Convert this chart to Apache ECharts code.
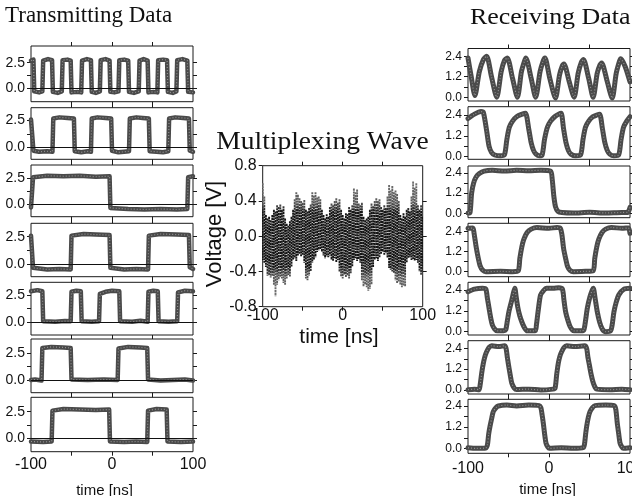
<!DOCTYPE html>
<html><head><meta charset="utf-8">
<script src="https://cdn.jsdelivr.net/npm/echarts@6/dist/echarts.min.js"></script>
<style>html,body{margin:0;padding:0;background:#fff}#c{width:632px;height:496px}</style>
</head><body><div id="c"></div>
<script>
// ---------- tick / label values ----------
const timeLabels = [-100, 0, 100];
const timeTicks = [-50, 0, 50];
const txTicks = [0, 1.25, 2.5];
const txLabels = [0, 2.5];
const rxTicks = [0, 0.6, 1.2, 1.8, 2.4];
const rxLabels = [0, 1.2, 2.4];
const mpxTicks = [-0.8, -0.4, 0, 0.4, 0.8];

// ---------- Transmitting data (time ns, voltage V) ----------
const tx1 = [[-100,2.7],[-97,2.8],[-96,-0.3],[-90,-0.4],[-86,-0.3],[-85,2.7],[-79,2.85],[-74,2.75],[-73,-0.35],[-67,-0.45],[-62,-0.3],[-61,2.75],[-55,2.8],[-51,2.7],[-50,-0.4],[-43,-0.35],[-38,-0.4],[-37,2.7],[-31,2.85],[-26,2.75],[-25,-0.35],[-20,-0.45],[-15,-0.3],[-14,2.75],[-8,2.85],[-3,2.7],[-2,-0.35],[3,-0.4],[8,-0.3],[9,2.75],[15,2.8],[20,2.7],[21,-0.35],[27,-0.45],[33,-0.3],[34,2.7],[39,2.85],[44,2.7],[45,-0.4],[51,-0.35],[56,-0.4],[57,2.75],[63,2.8],[68,2.75],[69,-0.35],[75,-0.45],[79.5,-0.3],[80.5,2.75],[87,2.85],[93,2.7],[94,-0.35],[100,-0.4]];
const tx2 = [[-100,2.6],[-98,2.7],[-97,-0.3],[-90,-0.4],[-80,-0.35],[-73.5,-0.4],[-72.5,2.7],[-65,2.8],[-55,2.75],[-47,2.7],[-46,-0.35],[-38,-0.45],[-30,-0.35],[-26,-0.4],[-25,2.7],[-18,2.8],[-8,2.75],[-1,2.7],[0,-0.3],[8,-0.45],[15,-0.4],[21,-0.35],[22,2.7],[30,2.8],[38,2.75],[45.5,2.7],[46.5,-0.35],[55,-0.4],[63,-0.45],[69.5,-0.35],[70.5,2.7],[78,2.8],[88,2.75],[95,2.7],[96,-0.3],[100,-0.4]];
const tx3 = [[-100,-0.3],[-98.5,-0.4],[-97.5,2.6],[-80,2.75],[-60,2.7],[-40,2.75],[-20,2.65],[-3,2.7],[-2,-0.35],[20,-0.45],[40,-0.5],[60,-0.45],[80,-0.5],[93,-0.45],[94,2.6],[100,2.7]];
const tx4 = [[-100,2.6],[-98.5,2.5],[-97.5,-0.35],[-80,-0.5],[-65,-0.45],[-51,-0.5],[-50,2.6],[-35,2.75],[-20,2.7],[-3,2.65],[-2,-0.35],[15,-0.5],[30,-0.45],[44.5,-0.5],[45.5,2.6],[60,2.75],[80,2.7],[95,2.65],[96,-0.3],[100,-0.45]];
const tx5 = [[-100,2.85],[-92,2.95],[-86,2.85],[-85,0.1],[-70,0.05],[-58,0.12],[-51,0.1],[-50,2.8],[-44,2.9],[-38.5,2.85],[-37.5,0.1],[-25,0.05],[-16,0.1],[-15,2.6],[-8,2.8],[0,2.9],[9,2.85],[10,0.1],[25,0.05],[35,0.15],[44,0.05],[45,2.8],[51,2.9],[56.5,2.85],[57.5,0.1],[70,0.05],[80.5,0.1],[81.5,2.75],[90,2.9],[100,2.85]];
const tx6 = [[-100,0.0],[-95,0.05],[-87,-0.05],[-86,3.0],[-75,3.1],[-60,3.05],[-51,3.0],[-50,0.05],[-30,0.0],[-10,0.05],[7,0.0],[8,2.95],[20,3.1],[35,3.05],[43.5,3.0],[44.5,0.05],[60,-0.05],[75,0.0],[90,0.05],[100,-0.05]];
const tx7 = [[-100,-0.3],[-85,-0.35],[-74.5,-0.3],[-73.5,2.6],[-60,2.75],[-40,2.7],[-20,2.65],[-3.5,2.7],[-2.5,-0.3],[15,-0.35],[30,-0.3],[43.5,-0.35],[44.5,2.6],[55,2.75],[67.5,2.7],[68.5,-0.3],[85,-0.35],[100,-0.3]];

// ---------- Receiving data ----------
const rx1 = [[-100,2.3],[-96,1.2],[-91.5,0.1],[-86,1.5],[-81,2.2],[-77,2.4],[-71,1.2],[-64.5,0.0],[-59,1.5],[-55,2.15],[-51.5,2.3],[-45,1.1],[-39,0.0],[-34,1.5],[-30,2.15],[-28.5,2.3],[-22,1.1],[-16.5,0.0],[-11,1.5],[-7,2.15],[-5,2.3],[1,1.1],[8,-0.05],[13,1.3],[16.5,1.85],[18.5,1.95],[25,0.9],[31,0.0],[36,1.4],[40,2.05],[42.5,2.2],[49,1.1],[54.5,0.0],[59.5,1.4],[63,1.9],[65,2.0],[72,0.9],[78,-0.05],[83,1.4],[87,2.1],[88.5,2.25],[94,1.8],[100,0.9]];
const rx2 = [[-100,2.2],[-92,2.45],[-84,2.6],[-81,2.55],[-77,1.5],[-74,0.6],[-71,0.25],[-67,0.1],[-60,0.05],[-55,0.1],[-52,1.0],[-49,1.7],[-45,2.05],[-40,2.3],[-33,2.45],[-29,2.5],[-25,1.6],[-22,0.8],[-19,0.35],[-16,0.15],[-12,0.05],[-8.5,0.1],[-5.5,1.0],[-2,1.7],[2,2.05],[7,2.3],[12,2.45],[15,2.5],[18,1.6],[21,0.8],[24,0.35],[27,0.15],[33,0.05],[39,0.1],[42,1.0],[45,1.7],[49,2.05],[54,2.3],[59,2.4],[62.5,2.45],[66,1.6],[69,0.8],[72,0.35],[75,0.15],[80,0.05],[86,0.1],[89,1.0],[92,1.7],[96,2.05],[100,2.3]];
const rx3 = [[-100,0.02],[-97.5,0.05],[-95.5,1.2],[-93,1.8],[-90,2.15],[-86,2.35],[-80,2.5],[-70,2.55],[-55,2.5],[-40,2.55],[-25,2.52],[-10,2.55],[2,2.5],[4,2.0],[6,1.0],[8,0.4],[11,0.12],[16,0.05],[30,0.02],[50,0.06],[70,0.02],[90,0.05],[97,0.05],[100,0.35]];
const rx4 = [[-100,2.6],[-94,2.62],[-92.5,2.3],[-90,1.5],[-87.5,0.85],[-85,0.35],[-82,0.1],[-78,0.0],[-60,0.02],[-45,0.0],[-38,0.05],[-36,0.8],[-33.5,1.5],[-31,1.95],[-27,2.35],[-22,2.55],[-15,2.65],[0,2.6],[10,2.65],[14,2.6],[16,2.2],[18,1.4],[20.5,0.8],[23,0.3],[26,0.08],[30,0.0],[45,0.02],[54.5,0.05],[56.5,0.8],[59,1.5],[61.5,1.95],[65.5,2.35],[70,2.55],[77,2.65],[90,2.6],[98,2.62],[100,2.3]];
const rx5 = [[-100,2.3],[-92,2.45],[-82,2.5],[-78,2.45],[-76,1.9],[-74,1.35],[-72,0.8],[-70,0.4],[-67,0.15],[-64,0.05],[-56,0.05],[-53.5,0.1],[-51.5,0.6],[-49.5,1.15],[-46,1.8],[-43.5,2.3],[-42.2,2.5],[-40.5,2.0],[-38.5,1.4],[-36,0.9],[-33,0.5],[-30.5,0.25],[-27,0.05],[-17,0.05],[-15.5,0.4],[-13.5,1.15],[-10.5,2.1],[-7,2.35],[-3,2.5],[5,2.5],[12,2.52],[16.5,2.45],[18.5,1.8],[20.5,1.15],[23,0.7],[26,0.3],[29,0.1],[31,0.05],[40,0.05],[43,0.1],[45,0.6],[47.3,1.35],[50.5,2.0],[53.5,2.4],[54.7,2.5],[57,1.9],[59.6,1.15],[62.5,0.55],[65.8,0.15],[70,0.0],[76,0.05],[78,0.4],[80.2,1.15],[83,1.7],[86.4,2.13],[92.6,2.45],[100,2.5]];
const rx6 = [[-100,0.02],[-92,0.05],[-86.5,0.02],[-85,0.3],[-83,1.0],[-81,1.55],[-79,1.95],[-77,2.2],[-74,2.45],[-70.7,2.55],[-62,2.5],[-55,2.55],[-53,2.4],[-51.5,1.9],[-50,1.45],[-48,0.9],[-46,0.4],[-43,0.12],[-40,0.03],[-25,0.05],[-10,0.0],[5,0.05],[7.5,0.1],[9.5,0.9],[11.5,1.55],[13.5,1.95],[15.6,2.2],[18.5,2.45],[21.8,2.55],[32,2.5],[44,2.55],[46.5,2.4],[48,1.9],[49.8,1.45],[52,0.9],[54.7,0.4],[57,0.15],[59,0.05],[75,0.02],[90,0.05],[100,0.02]];
const rx7 = [[-100,0.03],[-90,0.0],[-78,0.02],[-76,0.2],[-74.5,0.8],[-72.8,1.25],[-70.5,1.75],[-68.8,2.08],[-65.5,2.3],[-62.6,2.4],[-52,2.45],[-40,2.4],[-25,2.45],[-12,2.42],[-10,2.3],[-8.5,1.9],[-7,1.42],[-5.5,0.85],[-3.7,0.3],[-1.5,0.08],[0.4,0.0],[15,0.03],[30,0.0],[42.4,0.05],[44,0.3],[45.2,0.8],[46.5,1.25],[48.5,1.75],[50.6,2.08],[53.5,2.3],[56.8,2.42],[70,2.45],[80.5,2.42],[82.5,2.2],[84.3,1.42],[86,0.85],[87.7,0.3],[90,0.08],[91.7,0.0],[100,0.03]];

// ---------- Multiplexing wave: envelope per 2 ns sample ----------
const mpxStart = -100, mpxStep = 2;
const mpxHigh = [0.60,0.45,0.24,0.20,0.22,0.18,0.24,0.30,0.28,0.35,0.33,0.36,0.30,0.34,0.20,0.14,0.12,0.17,0.22,0.30,0.42,0.50,0.47,0.43,0.40,0.38,0.41,0.30,0.28,0.32,0.36,0.50,0.46,0.50,0.44,0.45,0.42,0.30,0.24,0.20,0.25,0.22,0.33,0.37,0.35,0.40,0.43,0.38,0.42,0.30,0.24,0.20,0.26,0.25,0.33,0.30,0.35,0.54,0.50,0.53,0.37,0.35,0.38,0.22,0.18,0.20,0.22,0.30,0.37,0.34,0.40,0.43,0.40,0.42,0.33,0.30,0.35,0.32,0.45,0.58,0.52,0.57,0.50,0.52,0.48,0.40,0.24,0.20,0.26,0.22,0.30,0.32,0.28,0.45,0.62,0.55,0.60,0.35,0.30,0.35,0.22];
const mpxLow = [-0.27,-0.30,-0.35,-0.45,-0.44,-0.47,-0.45,-0.55,-0.68,-0.55,-0.50,-0.46,-0.48,-0.53,-0.55,-0.48,-0.44,-0.46,-0.35,-0.27,-0.25,-0.28,-0.22,-0.20,-0.23,-0.21,-0.30,-0.48,-0.50,-0.45,-0.40,-0.30,-0.27,-0.24,-0.18,-0.16,-0.15,-0.18,-0.22,-0.25,-0.23,-0.24,-0.22,-0.27,-0.28,-0.25,-0.30,-0.27,-0.40,-0.46,-0.48,-0.44,-0.47,-0.45,-0.48,-0.42,-0.35,-0.27,-0.25,-0.28,-0.26,-0.30,-0.50,-0.57,-0.55,-0.58,-0.62,-0.60,-0.55,-0.35,-0.27,-0.25,-0.28,-0.24,-0.20,-0.18,-0.21,-0.19,-0.25,-0.36,-0.38,-0.40,-0.42,-0.50,-0.53,-0.52,-0.55,-0.58,-0.56,-0.57,-0.30,-0.25,-0.24,-0.27,-0.26,-0.28,-0.27,-0.30,-0.40,-0.44,-0.42];

// ---------- layout ----------
const SANS = 'Liberation Sans, Arial, sans-serif';
const SERIF = 'Liberation Serif, Times New Roman, serif';
const txPanels = [
  {data: tx1, top: 46, height: 55.7, yMin: -1.31, yMax: 4.13},
  {data: tx2, top: 107.7, height: 51.6, yMin: -1.1, yMax: 3.7},
  {data: tx3, top: 165, height: 51.7, yMin: -1.19, yMax: 3.78},
  {data: tx4, top: 223.3, height: 53.4, yMin: -1.16, yMax: 3.73},
  {data: tx5, top: 282.3, height: 52.7, yMin: -1.16, yMax: 3.67},
  {data: tx6, top: 339, height: 53.7, yMin: -1.19, yMax: 3.84},
  {data: tx7, top: 397.3, height: 54.4, yMin: -1.26, yMax: 3.85}
];
const rxPanels = [
  {data: rx1, top: 48.5, height: 52.5, yMin: -0.22, yMax: 2.85},
  {data: rx2, top: 106.7, height: 52.6, yMin: -0.15, yMax: 2.88},
  {data: rx3, top: 166, height: 51.7, yMin: -0.26, yMax: 2.8},
  {data: rx4, top: 223.3, height: 53.4, yMin: -0.3, yMax: 2.9},
  {data: rx5, top: 282.3, height: 52.7, yMin: -0.19, yMax: 2.84},
  {data: rx6, top: 340.7, height: 53.3, yMin: -0.23, yMax: 2.84},
  {data: rx7, top: 399.3, height: 54, yMin: -0.28, yMax: 2.78}
];

const grids = [], xAxes = [], yAxes = [], series = [];
const tickStyle = {color: '#1a1a1a', width: 1};
const noLine = {show: false, onZero: false};

function addPanel(p) {
  const gi = grids.length;
  grids.push({left: p.left, top: p.top, width: p.width, height: p.height, show: true,
    borderColor: '#1a1a1a', borderWidth: 1, backgroundColor: 'transparent',
    containLabel: false, outerBoundsMode: 'none'});
  const xi = xAxes.length;
  xAxes.push({gridIndex: gi, type: 'value', min: -100, max: 100, position: 'bottom',
    axisLine: noLine, splitLine: {show: false},
    axisTick: {show: true, length: 4, lineStyle: tickStyle, customValues: timeTicks},
    axisLabel: p.xLabel ? {show: true, customValues: timeLabels, fontSize: p.xLabel.size,
      margin: p.xLabel.margin, color: '#111', fontFamily: SANS} : {show: false}});
  xAxes.push({gridIndex: gi, type: 'value', min: -100, max: 100, position: 'top',
    axisLine: noLine, splitLine: {show: false},
    axisTick: {show: true, length: 4, lineStyle: tickStyle, customValues: timeTicks},
    axisLabel: {show: false}});
  const yi = yAxes.length;
  yAxes.push({gridIndex: gi, type: 'value', min: p.yMin, max: p.yMax, position: 'left',
    axisLine: noLine, splitLine: {show: false},
    axisTick: {show: true, length: 4, lineStyle: tickStyle, customValues: p.yTicks},
    axisLabel: {show: true, customValues: p.yLabels, fontSize: p.yFont, margin: 6, color: '#111',
      fontFamily: SANS, formatter: v => Number(v).toFixed(1)}});
  yAxes.push({gridIndex: gi, type: 'value', min: p.yMin, max: p.yMax, position: 'right',
    axisLine: noLine, splitLine: {show: false},
    axisTick: {show: true, length: 4, lineStyle: tickStyle, customValues: p.yTicksRight || p.yTicks},
    axisLabel: {show: false}});
  return {xi, yi};
}

txPanels.forEach((p, i) => {
  const ax = addPanel({left: 31, width: 162, top: p.top, height: p.height, yMin: p.yMin, yMax: p.yMax,
    yTicks: txTicks, yLabels: txLabels, yFont: 14,
    xLabel: i === txPanels.length - 1 ? {size: 16, margin: 5} : null});
  series.push({type: 'line', xAxisIndex: ax.xi, yAxisIndex: ax.yi, data: p.data, symbol: 'none',
    animation: false, silent: true, z: 3,
    lineStyle: {color: '#4a4a4a', width: 4.5, join: 'round', cap: 'round'},
    markLine: {silent: true, symbol: 'none', label: {show: false}, animation: false,
      lineStyle: {color: '#111', width: 1, type: 'solid'}, data: [{yAxis: 0}]}});
  series.push({type: 'line', xAxisIndex: ax.xi, yAxisIndex: ax.yi, data: p.data, symbol: 'none',
    animation: false, silent: true, z: 4,
    lineStyle: {color: 'rgba(255,255,255,0.4)', width: 1.2, type: [1, 2]}});
});

rxPanels.forEach((p, i) => {
  const ax = addPanel({left: 468, width: 162, top: p.top, height: p.height, yMin: p.yMin, yMax: p.yMax,
    yTicks: rxTicks, yLabels: rxLabels, yFont: 12,
    xLabel: i === rxPanels.length - 1 ? {size: 16, margin: 7} : null});
  series.push({type: 'line', xAxisIndex: ax.xi, yAxisIndex: ax.yi, data: p.data, symbol: 'none',
    animation: false, silent: true, z: 3, smooth: 0.25,
    lineStyle: {color: '#4a4a4a', width: 5, join: 'round', cap: 'round'}});
  series.push({type: 'line', xAxisIndex: ax.xi, yAxisIndex: ax.yi, data: p.data, symbol: 'none',
    animation: false, silent: true, z: 4, smooth: 0.25,
    lineStyle: {color: 'rgba(255,255,255,0.4)', width: 1.2, type: [1, 2]}});
});

// middle panel
const mpxData = mpxHigh.map((h, i) => [mpxStart + i * mpxStep, mpxLow[i], h]);
const mAx = addPanel({left: 262.7, width: 160, top: 165.7, height: 141, yMin: -0.8, yMax: 0.8,
  yTicks: mpxTicks, yTicksRight: [-0.4, 0, 0.4], yLabels: mpxTicks, yFont: 16,
  xLabel: {size: 16, margin: 1}});
series.push({type: 'custom', xAxisIndex: mAx.xi, yAxisIndex: mAx.yi, data: mpxData,
  animation: false, silent: true, clip: true, z: 3,
  encode: {x: 0, y: [1, 2]},
  renderItem: function (params, api) {
    const t = api.value(0), lo = api.value(1), hi = api.value(2);
    const p1 = api.coord([t, hi]), p2 = api.coord([t, lo]);
    const yTop = api.coord([0, 0.8])[1], yBot = api.coord([0, -0.8])[1];
    const grad = new echarts.graphic.LinearGradient(0, yTop, 0, yBot, [
      {offset: 0, color: '#808080'}, {offset: 0.26, color: '#5a5a5a'},
      {offset: 0.33, color: '#151515'}, {offset: 0.71, color: '#151515'},
      {offset: 0.79, color: '#5a5a5a'}, {offset: 1, color: '#808080'}], true);
    return {type: 'line', shape: {x1: p1[0], y1: p1[1], x2: p2[0], y2: p2[1]},
      style: {stroke: grad, lineWidth: 1.9, lineDash: [2.2, 0.6]}};
  }});

const graphic = [
  {type: 'text', left: 5, top: 4, style: {text: 'Transmitting Data', font: '23px ' + SERIF, fill: '#111'}},
  {type: 'text', x: 470, y: 6, scaleX: 1.08, style: {text: 'Receiving Data', font: '24px ' + SERIF, fill: '#111'}},
  {type: 'text', x: 322.5, y: 142, scaleX: 1.1, style: {text: 'Multiplexing Wave', font: '25px ' + SERIF, fill: '#111', align: 'center', verticalAlign: 'middle'}},
  {type: 'text', x: 215, y: 234, rotation: Math.PI / 2, style: {text: 'Voltage [V]', font: '22px ' + SANS, fill: '#111', align: 'center', verticalAlign: 'middle'}},
  {type: 'text', x: 339, y: 337, style: {text: 'time [ns]', font: '21px ' + SANS, fill: '#111', align: 'center', verticalAlign: 'middle'}},
  {type: 'text', x: 104.5, y: 491, style: {text: 'time [ns]', font: '15px ' + SANS, fill: '#111', align: 'center', verticalAlign: 'middle'}},
  {type: 'text', x: 547.5, y: 490, style: {text: 'time [ns]', font: '15px ' + SANS, fill: '#111', align: 'center', verticalAlign: 'middle'}}
];

const chart = echarts.init(document.getElementById('c'), null, {renderer: 'canvas'});
chart.setOption({animation: false, backgroundColor: '#fff', grid: grids, xAxis: xAxes, yAxis: yAxes,
  series: series, graphic: graphic});
</script></body></html>
